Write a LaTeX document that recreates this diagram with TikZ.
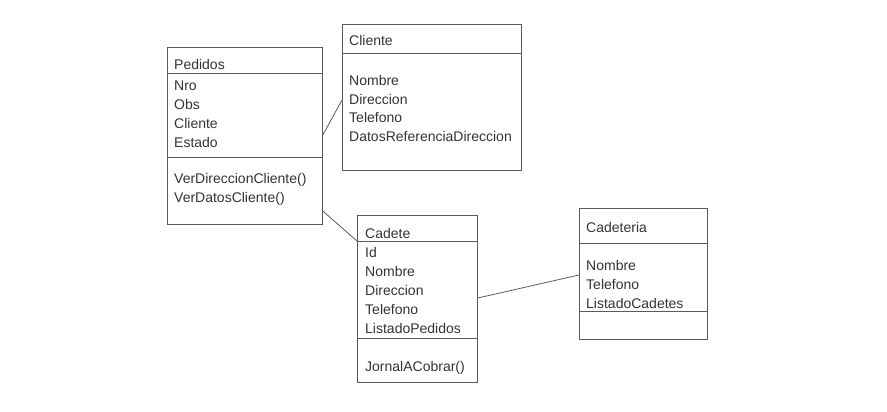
\documentclass[tikz,border=0pt]{standalone}
\usepackage{fontspec}
\setmainfont{Liberation Sans}
\usetikzlibrary{calc}
\definecolor{sline}{HTML}{5A5A5A}
\definecolor{stext}{HTML}{333333}

\begin{document}
\begin{tikzpicture}[x=1pt, y=-1pt,
    CLS/.style={rectangle, draw=sline, line width=0.8pt, inner sep=0pt, anchor=north west},
    TXT/.style={anchor=base west, align=left, inner sep=0pt, text=stext, font=\fontsize{14}{19}\selectfont},
    SEP/.style={draw=sline, line width=0.8pt},
    LNK/.style={draw=sline, line width=0.8pt}
    ]
        \useasboundingbox (0,0) rectangle (887,412);
        % boxes
        \node[CLS, minimum width=155pt, minimum height=177pt] (pedidos) at (167,47) {};
        \node[CLS, minimum width=179pt, minimum height=146pt] (cliente) at (342,24) {};
        \node[CLS, minimum width=120pt, minimum height=167pt] (cadete) at (357,215) {};
        \node[CLS, minimum width=128pt, minimum height=131pt] (cadeteria) at (579,208) {};
        % separators
        \draw[SEP] ($(pedidos.north west)+(0,26)$) -- ($(pedidos.north east)+(0,26)$);
        \draw[SEP] ($(pedidos.north west)+(0,110)$) -- ($(pedidos.north east)+(0,110)$);
        \draw[SEP] ($(cliente.north west)+(0,29)$) -- ($(cliente.north east)+(0,29)$);
        \draw[SEP] ($(cadete.north west)+(0,26)$) -- ($(cadete.north east)+(0,26)$);
        \draw[SEP] ($(cadete.north west)+(0,123)$) -- ($(cadete.north east)+(0,123)$);
        \draw[SEP] ($(cadeteria.north west)+(0,35)$) -- ($(cadeteria.north east)+(0,35)$);
        \draw[SEP] ($(cadeteria.north west)+(0,103)$) -- ($(cadeteria.north east)+(0,103)$);
        % texts (anchored at the baseline of the last line)
        \node[TXT] (pedT) at ($(pedidos.north west)+(7,23)$) {Pedidos};
        \node[TXT] (pedA) at ($(pedidos.north west)+(7,100)$) {Nro\\Obs\\Cliente\\Estado};
        \node[TXT] (pedM) at ($(pedidos.north west)+(7,155)$) {VerDireccionCliente()\\VerDatosCliente()};
        \node[TXT] (cliT) at ($(cliente.north west)+(7,22)$) {Cliente};
        \node[TXT] (cliA) at ($(cliente.north west)+(7,118)$) {Nombre\\Direccion\\Telefono\\DatosReferenciaDireccion};
        \node[TXT] (cadT) at ($(cadete.north west)+(8,23)$) {Cadete};
        \node[TXT] (cadA) at ($(cadete.north west)+(8,118)$) {Id\\Nombre\\Direccion\\Telefono\\ListadoPedidos};
        \node[TXT] (cadM) at ($(cadete.north west)+(8,156)$) {JornalACobrar()};
        \node[TXT] (ctrT) at ($(cadeteria.north west)+(7,24)$) {Cadeteria};
        \node[TXT] (ctrA) at ($(cadeteria.north west)+(7,100)$) {Nombre\\Telefono\\ListadoCadetes};
        % links
        \draw[LNK] ($(pedidos.north east)+(0,88)$) -- ($(cliente.north west)+(0,76)$);
        \draw[LNK] ($(pedidos.north east)+(0,164)$) -- ($(cadete.north west)+(0,26)$);
        \draw[LNK] ($(cadete.north east)+(0,83)$) -- ($(cadeteria.north west)+(0,67)$);
    \end{tikzpicture}
\end{document}
